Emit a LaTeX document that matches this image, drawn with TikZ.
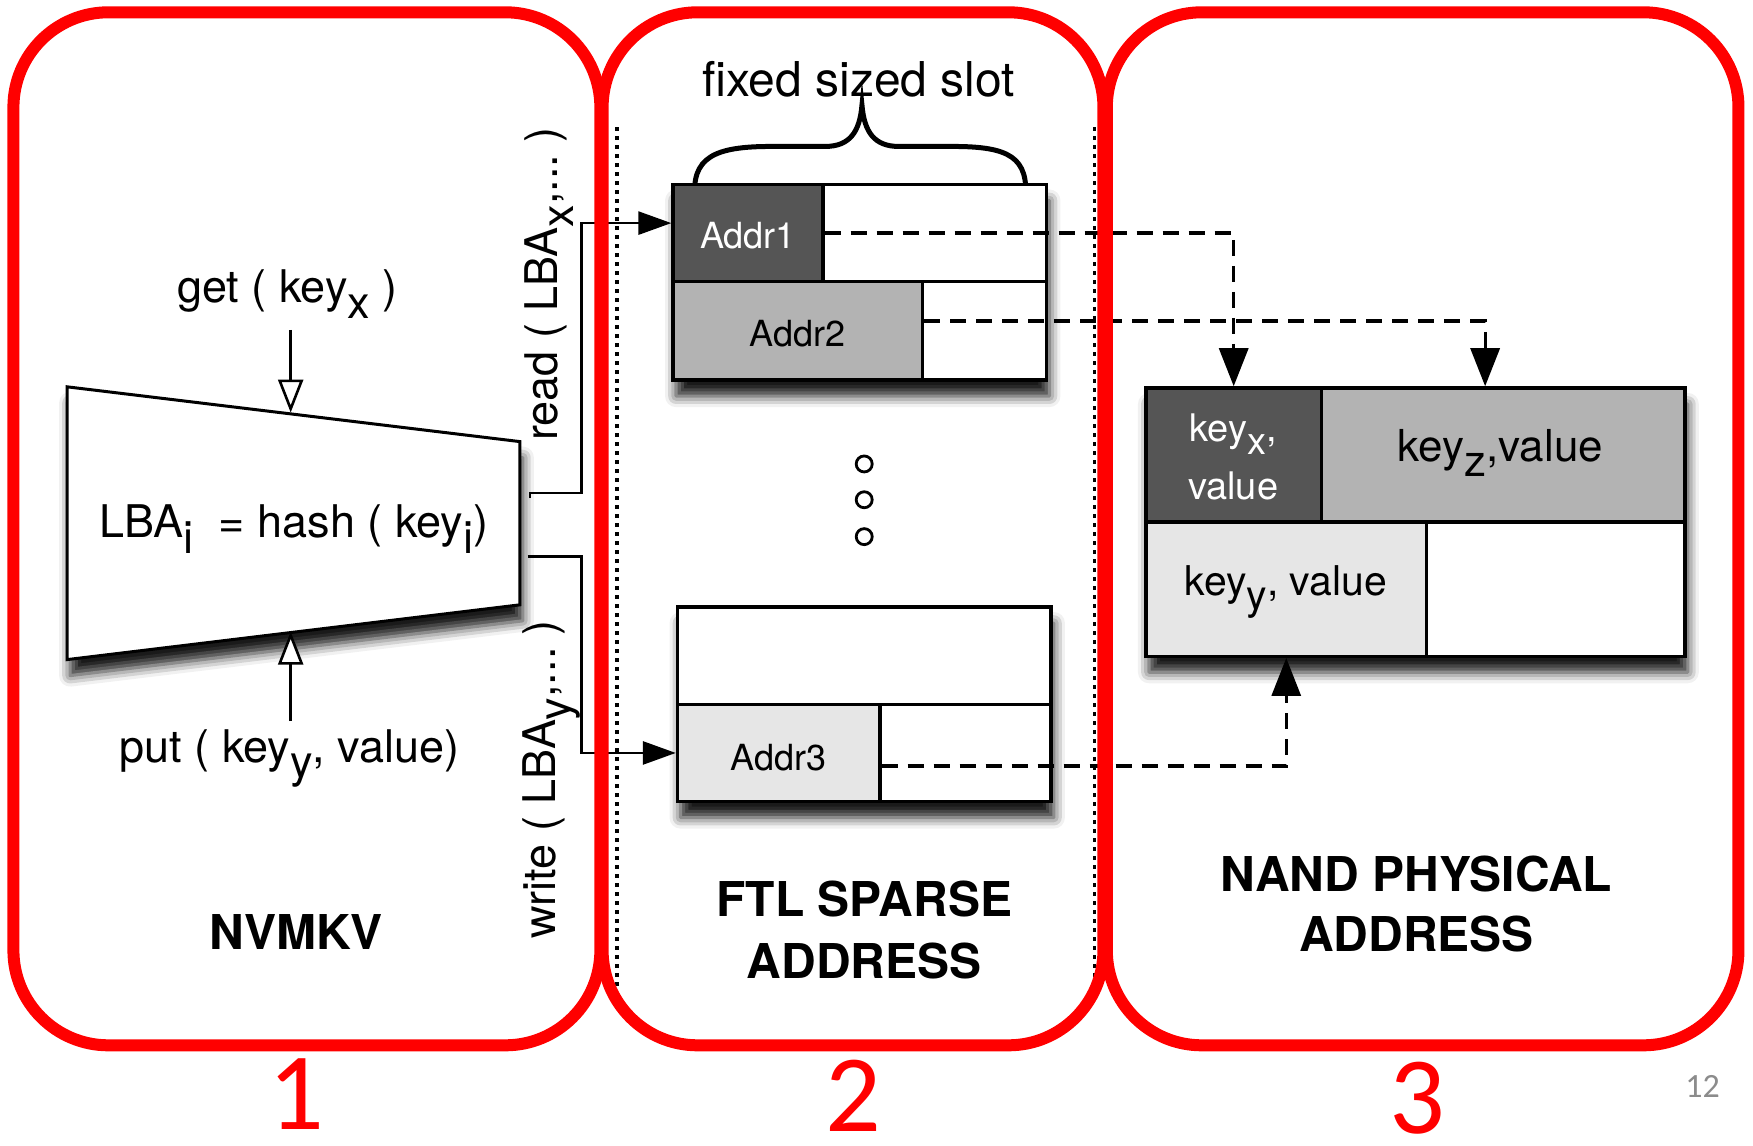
\documentclass[tikz,border=0pt]{standalone}
\usepackage{fontspec}
\setmainfont{TeX Gyre Heros}
\newfontfamily\slidefont{Carlito}
\usetikzlibrary{arrows.meta,shadows.blur,fit,calc}
\definecolor{celldark}{HTML}{555555}
\definecolor{cellmid}{HTML}{B3B3B3}
\definecolor{celllight}{HTML}{E6E6E6}
\definecolor{pagegray}{HTML}{8C8C8C}
% subscript kept at full size, only lowered
\newcommand\lowsub[1]{\raisebox{-0.34em}{#1}}
\begin{document}
\begin{tikzpicture}[x=1.118pt,y=-1.118pt,
  panel/.style={draw=red, line width=12pt, rounded corners=95pt, inner sep=0pt},
  cell/.style={draw=black, line width=3.4pt, inner sep=0pt},
  celltext/.style={inner sep=0pt, font=\fontsize{36pt}{43pt}\selectfont},
  lbl/.style={inner sep=0pt, font=\fontsize{45pt}{54pt}\selectfont},
  title/.style={inner sep=0pt, font=\fontsize{48pt}{58pt}\selectfont\bfseries},
  bignum/.style={inner sep=0pt, text=red, font=\slidefont\fontsize{110pt}{128pt}\selectfont},
  flow/.style={line width=2.8pt, -{Triangle[length=33pt,width=23pt,fill=black,line join=miter]}},
  feed/.style={line width=2.6pt, -{Triangle[length=33pt,width=25pt,fill=white]}},
  dasharrow/.style={line width=3.2pt, dash pattern=on 16pt off 10pt,
    -{Triangle[length=38pt,width=29pt,fill=black,line join=miter]}},
  dotline/.style={line width=3.6pt, dash pattern=on 3.6pt off 5.4pt},
  dropshadow/.style={blur shadow={shadow xshift=3pt, shadow yshift=-16pt, shadow blur radius=11pt, shadow opacity=90}},
  dot/.style={circle, draw, line width=2.8pt, minimum size=16pt, inner sep=0pt},
]
\useasboundingbox (0,0) rectangle (1568,1025);

% ---------- block shadows ----------
\fill[white, dropshadow] (602,165) rectangle (936,340);
\fill[white, dropshadow] (606,543) rectangle (940,717);
\fill[white, dropshadow] (1025,347) rectangle (1507,587);

% ---------- hash stage ----------
\coordinate (tl) at (60,346);
\coordinate (tr) at (465,395);
\coordinate (br) at (465,541);
\coordinate (bl) at (60,590);
\filldraw[fill=white, line width=3pt, dropshadow] (tl) -- (tr) -- (br) -- (bl) -- cycle;
\node[lbl, anchor=base west] (hash) at (89,481) {LBA\lowsub{i}\ \ = hash ( key\lowsub{i})};

\node[lbl, anchor=base] (get) at (257,271) {get ( key\lowsub{x} )};
\node[lbl, anchor=base] (put) at (259,682) {put ( key\lowsub{y}, value)};
\coordinate (g0) at (260,295);
\coordinate (gin) at (260,369);
\coordinate (p0) at (260,645);
\coordinate (pin) at (260,565);
\draw[feed] (g0) -- (gin);
\draw[feed] (p0) -- (pin);

\node[lbl, rotate=90, anchor=base] (rd) at (499,254) {read ( LBA\lowsub{x},...\ )};
\node[lbl, rotate=90, anchor=base] (wr) at (497,697) {write ( LBA\lowsub{y},...\ )};

\node[title, anchor=base] (nvmkv) at (265,849) {NVMKV};

% ---------- FTL sparse address slots ----------
\node[lbl, anchor=base, font=\fontsize{48pt}{56pt}\selectfont] (slot) at (768,86) {fixed sized slot};
\draw[line width=5pt, line cap=round]
  (622,180) .. controls (617,140) and (640,131) .. (690,131) -- (738,131)
  .. controls (760,131) and (769,118) .. (771,94)
  .. controls (773,118) and (782,131) .. (804,131) -- (852,131)
  .. controls (902,131) and (921,140) .. (917,180);

\node[cell, fill=celldark, fit={(602,165)(736,252)}] (a1) {};
\node[cell, fill=white, fit={(736,165)(936,252)}] (a1r) {};
\node[cell, fill=cellmid, fit={(602,252)(825,340)}] (a2) {};
\node[cell, fill=white, fit={(825,252)(936,340)}] (a2r) {};
\node[celltext, text=white, anchor=base] (a1t) at ($(a1.center)+(0,14)$) {Addr1};
\node[celltext, anchor=base] (a2t) at ($(a2.center)+(0,14)$) {Addr2};

\node[dot] (e1) at (773,415) {};
\node[dot] (e2) at (773,447) {};
\node[dot] (e3) at (773,480) {};

\node[cell, fill=white, fit={(606,543)(940,630)}] (s0) {};
\node[cell, fill=celllight, fit={(606,630)(787,717)}] (a3) {};
\node[cell, fill=white, fit={(787,630)(940,717)}] (a3r) {};
\node[celltext, anchor=base] (a3t) at ($(a3.center)+(0,16)$) {Addr3};

\node[title, anchor=base] (ftl1) at (773,820) {FTL SPARSE};
\node[title, anchor=base] (ftl2) at (773,875) {ADDRESS};

\coordinate (dla) at (552,114);
\coordinate (dlb) at (552,882);
\coordinate (dra) at (979,114);
\coordinate (drb) at (979,882);
\draw[dotline] (dla) -- (dlb);
\draw[dotline] (dra) -- (drb);

% ---------- NAND physical pages ----------
\node[cell, fill=celldark, fit={(1025,347)(1182,467)}] (kx) {};
\node[cell, fill=cellmid, fit={(1182,347)(1507,467)}] (kz) {};
\node[cell, fill=celllight, fit={(1025,467)(1276,587)}] (ky) {};
\node[cell, fill=white, fit={(1276,467)(1507,587)}] (kw) {};
\node[inner sep=0pt, anchor=base, text=white, font=\fontsize{38pt}{46pt}\selectfont] (kxt1) at (1103,395) {key\lowsub{x},};
\node[inner sep=0pt, anchor=base, text=white, font=\fontsize{38pt}{46pt}\selectfont] (kxt2) at (1103,447) {value};
\node[inner sep=0pt, anchor=base, font=\fontsize{44pt}{52pt}\selectfont] (kzt) at (1342,413) {key\lowsub{z},value};
\node[inner sep=0pt, anchor=base, font=\fontsize{41pt}{50pt}\selectfont] (kyt) at (1150,533) {key\lowsub{y}, value};

\node[title, anchor=base] (nand1) at (1267,797) {NAND PHYSICAL};
\node[title, anchor=base] (nand2) at (1267,851) {ADDRESS};

% ---------- connectors ----------
\coordinate (rd0) at (474,441);
\coordinate (wr0) at (472,498);
\draw[flow] ([yshift=-5pt]rd0) -- (rd0) -- ++(46,0) |- ([yshift=10pt]a1.west);
\draw[flow] (wr0) -- ++(48,0) |- (a3.west);

\draw[dasharrow] (a1.east) -| (kx.north);
\draw[dasharrow] ([yshift=10pt]a2.east) -| ([xshift=-18pt]kz.north);
\draw[dasharrow] ([yshift=-13pt]a3.east) -| (ky.south);

% ---------- red stage frames ----------
\node[panel, fit={(12,11)(537,935)}] (p1) {};
\node[panel, fit={(539,11)(987,935)}] (p2) {};
\node[panel, fit={(990,11)(1555,935)}] (p3) {};

\node[bignum, anchor=base] (n1) at (265,1010) {1};
\node[bignum, anchor=base] (n2) at (763,1012) {2};
\node[bignum, anchor=base] (n3) at (1268,1014) {3};
\node[inner sep=0pt, anchor=base, text=pagegray, font=\slidefont\fontsize{34pt}{40pt}\selectfont] (pg) at (1523,982) {12};
\end{tikzpicture}
\end{document}
